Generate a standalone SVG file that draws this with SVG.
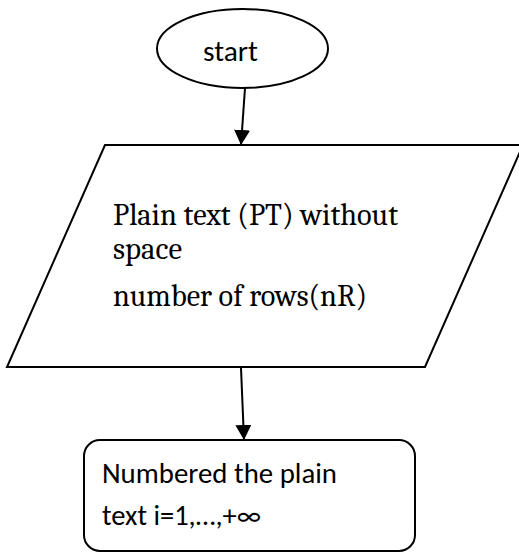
<svg xmlns="http://www.w3.org/2000/svg" width="519" height="553" viewBox="0 0 519 553">
<style>
.shape{fill:#fff;stroke:#000;stroke-width:2}
.conn{stroke:#000;stroke-width:2;fill:none}
.sans{font-family:Carlito,Calibri,Lato,"Liberation Sans",sans-serif;font-size:28px;fill:#000}
.serif{font-family:Caladea,Cambria,"Liberation Serif",serif;font-size:31px;fill:#000}
</style>
<defs>
<marker id="arrow" markerUnits="userSpaceOnUse" markerWidth="15" markerHeight="16" refX="15" refY="8" orient="auto" viewBox="0 0 15 16">
<path d="M0,0 L15,8 L0,16 z" fill="#000"/>
</marker>
</defs>
<rect width="519" height="553" fill="#fff"/>
<g id="start">
<ellipse class="shape" cx="242.5" cy="48.5" rx="85.5" ry="39.5"/>
<text class="sans" x="203" y="61" textLength="55" lengthAdjust="spacingAndGlyphs">start</text>
</g>
<g id="input">
<polygon class="shape" points="105,145 523,145 425,367 7,367"/>
<text class="serif" x="113" y="225" textLength="285" lengthAdjust="spacingAndGlyphs">Plain text (PT) without</text>
<text class="serif" x="113" y="259" textLength="69" lengthAdjust="spacingAndGlyphs">space</text>
<text class="serif" x="113" y="306" textLength="254" lengthAdjust="spacingAndGlyphs">number of rows(nR)</text>
</g>
<g id="number">
<rect class="shape" x="84" y="440" width="331" height="111" rx="16" ry="16"/>
<text class="sans" x="102" y="483" textLength="235" lengthAdjust="spacingAndGlyphs">Numbered the plain</text>
<text class="sans" x="102" y="525" textLength="159" lengthAdjust="spacingAndGlyphs">text i=1,…,+∞</text>
</g>
<g id="connectors">
<line class="conn" x1="245" y1="88" x2="241" y2="145" marker-end="url(#arrow)"/>
<line class="conn" x1="241" y1="368" x2="244" y2="440" marker-end="url(#arrow)"/>
</g>
</svg>
